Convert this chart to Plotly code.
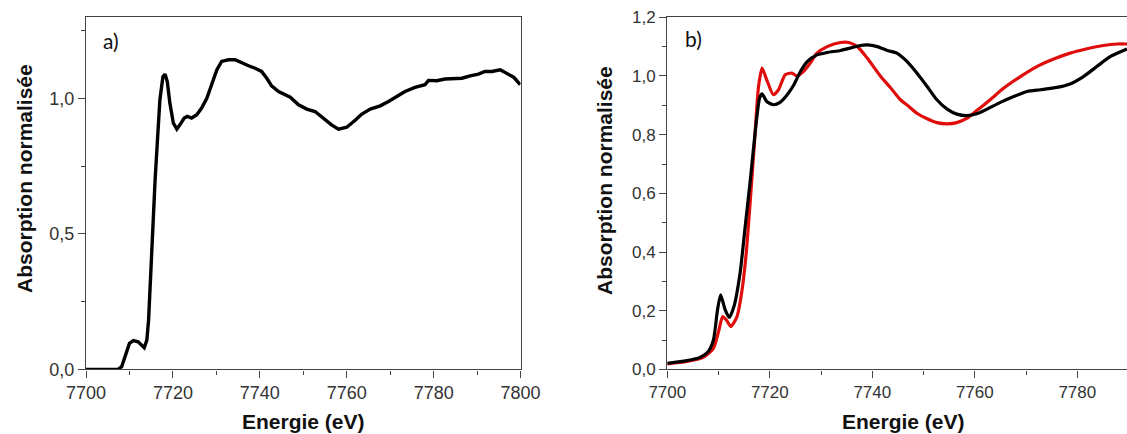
import plotly.graph_objects as go

# ---------------- Panel a data ----------------
energy_a = [7700, 7707.4, 7708.2, 7709.0, 7710.0, 7710.9, 7712.0, 7713.4, 7714.0, 7714.4,
            7714.9, 7715.3, 7715.9, 7716.4, 7717.0, 7717.7, 7718.2, 7718.7, 7719.3, 7720.1,
            7720.9, 7721.6, 7722.6, 7723.3, 7724.3, 7725.5, 7726.6, 7727.8, 7728.9, 7730.1,
            7731.2, 7732.8, 7734.3, 7735.8, 7737.4, 7738.9, 7740.4, 7741.6, 7742.7, 7744.3,
            7745.8, 7747.0, 7748.9, 7750.8, 7752.7, 7754.6, 7756.5, 7758.1, 7760.0, 7762.0,
            7763.4, 7765.4, 7767.7, 7769.6, 7771.5, 7773.4, 7775.7, 7778.0, 7778.8, 7780.7,
            7782.6, 7784.5, 7786.5, 7788.4, 7790.3, 7791.8, 7793.4, 7795.3, 7796.8, 7798.4,
            7799.9]
absorb_a = [0.0, 0.0, 0.01, 0.047, 0.096, 0.106, 0.102, 0.080, 0.108, 0.182,
            0.355, 0.527, 0.700, 0.835, 0.995, 1.081, 1.090, 1.063, 0.983, 0.909,
            0.887, 0.903, 0.928, 0.934, 0.928, 0.940, 0.965, 1.001, 1.051, 1.106,
            1.137, 1.143, 1.143, 1.131, 1.121, 1.112, 1.100, 1.075, 1.047, 1.026,
            1.014, 1.005, 0.977, 0.961, 0.952, 0.928, 0.903, 0.887, 0.894, 0.921,
            0.942, 0.961, 0.973, 0.989, 1.008, 1.026, 1.041, 1.051, 1.067, 1.066,
            1.072, 1.075, 1.075, 1.084, 1.090, 1.100, 1.100, 1.106, 1.094, 1.079,
            1.051]

# ---------------- Panel b data ----------------
energy_b_black = [7700, 7703.8, 7706.4, 7708.0, 7709.0, 7709.8, 7710.4, 7711.3, 7712.1, 7713.0,
                  7714.2, 7715.2, 7716.2, 7717.2, 7718.0, 7718.5, 7719.4, 7720.7, 7722.0, 7723.4,
                  7724.7, 7726.0, 7727.3, 7729.2, 7731.2, 7733.8, 7735.7, 7737.7, 7739.0, 7741.0,
                  7742.9, 7744.8, 7746.8, 7748.7, 7750.7, 7752.6, 7754.6, 7756.5, 7758.5, 7760.4,
                  7762.4, 7765.0, 7767.6, 7770.2, 7772.8, 7776.0, 7778.6, 7781.2, 7783.8, 7786.4,
                  7789.7]
absorb_b_black = [0.021, 0.030, 0.041, 0.061, 0.100, 0.203, 0.254, 0.203, 0.177, 0.214,
                  0.328, 0.487, 0.646, 0.817, 0.924, 0.939, 0.913, 0.902, 0.910, 0.936,
                  0.970, 1.016, 1.049, 1.072, 1.080, 1.087, 1.095, 1.104, 1.106, 1.100,
                  1.087, 1.078, 1.049, 1.010, 0.964, 0.919, 0.887, 0.870, 0.865, 0.871,
                  0.887, 0.910, 0.930, 0.947, 0.953, 0.961, 0.973, 0.998, 1.032, 1.066,
                  1.092]

energy_b_red = [7700, 7703.8, 7707.0, 7709.0, 7710.0, 7710.8, 7711.5, 7712.4, 7713.6, 7714.5,
                7715.4, 7716.2, 7717.0, 7717.8, 7718.5, 7719.4, 7720.7, 7721.7, 7723.0, 7724.3,
                7725.3, 7726.6, 7727.9, 7729.2, 7731.2, 7733.8, 7735.4, 7737.1, 7739.0, 7741.6,
                7743.6, 7745.5, 7746.8, 7748.7, 7750.7, 7752.6, 7754.6, 7756.5, 7758.5, 7760.4,
                7763.0, 7765.6, 7768.9, 7772.1, 7775.4, 7778.6, 7781.9, 7785.1, 7787.8, 7789.7]
absorb_b_red = [0.019, 0.027, 0.041, 0.072, 0.129, 0.180, 0.169, 0.146, 0.180, 0.260,
                0.396, 0.578, 0.771, 0.964, 1.027, 0.987, 0.936, 0.953, 1.004, 1.010,
                1.000, 1.016, 1.044, 1.078, 1.100, 1.114, 1.114, 1.100, 1.061, 0.999,
                0.959, 0.919, 0.901, 0.873, 0.854, 0.841, 0.837, 0.841, 0.856, 0.882,
                0.919, 0.958, 0.998, 1.032, 1.058, 1.078, 1.093, 1.104, 1.109, 1.109]

# ---------------- Tick labels ----------------
x_ticks_a = [7700, 7720, 7740, 7760, 7780, 7800]
x_ticks_b = [7700, 7720, 7740, 7760, 7780]
y_ticks_a = [0.0, 0.5, 1.0]
y_labels_a = ["0,0", "0,5", "1,0"]
y_ticks_b = [0.0, 0.2, 0.4, 0.6, 0.8, 1.0, 1.2]
y_labels_b = ["0,0", "0,2", "0,4", "0,6", "0,8", "1,0", "1,2"]

x_title = "Energie (eV)"
y_title = "Absorption normalisée"

W, H = 1127, 434
FONT = "Liberation Sans, Arial, sans-serif"
AXC = "#444444"
TICKC = "#333333"

fig = go.Figure()
fig.add_trace(go.Scatter(x=energy_a, y=absorb_a, mode="lines",
                         line=dict(color="#000000", width=3.4),
                         xaxis="x", yaxis="y", showlegend=False))
fig.add_trace(go.Scatter(x=energy_b_red, y=absorb_b_red, mode="lines",
                         line=dict(color="#e00d0d", width=3.2, shape="spline", smoothing=0.6),
                         xaxis="x2", yaxis="y2", showlegend=False))
fig.add_trace(go.Scatter(x=energy_b_black, y=absorb_b_black, mode="lines",
                         line=dict(color="#000000", width=3.2, shape="spline", smoothing=0.6),
                         xaxis="x2", yaxis="y2", showlegend=False))

def px_x(v):
    return v / W

def px_y(v):
    return 1 - v / H

common = dict(showgrid=False, zeroline=False, showline=True, linecolor=AXC, linewidth=1.3,
              ticks="outside", tickcolor=AXC, tickwidth=1.2, ticklen=7, automargin=False)

fig.update_layout(
    width=W, height=H,
    margin=dict(l=0, r=0, t=0, b=0, pad=0, autoexpand=False),
    paper_bgcolor="white", plot_bgcolor="white",
    xaxis=dict(domain=[px_x(86), px_x(520.6)], range=[7700, 7800], anchor="y",
               tickvals=x_ticks_a, ticktext=[str(v) for v in x_ticks_a],
               tickfont=dict(family=FONT, size=18, color=TICKC), mirror=True,
               minor=dict(dtick=10, tick0=7700, ticks="outside", ticklen=4, tickcolor=AXC, tickwidth=1.2),
               **common),
    yaxis=dict(domain=[px_y(369.4), px_y(17.3)], range=[0, 1.30], anchor="x",
               tickvals=y_ticks_a, ticktext=y_labels_a,
               tickfont=dict(family=FONT, size=18, color=TICKC), mirror=True,
               minor=dict(dtick=0.25, tick0=0, ticks="outside", ticklen=4, tickcolor=AXC, tickwidth=1.2),
               **common),
    xaxis2=dict(domain=[px_x(667.3), 1.0], range=[7700, 7789.7], anchor="y2",
                tickvals=x_ticks_b, ticktext=[str(v) for v in x_ticks_b],
                tickfont=dict(family=FONT, size=17, color=TICKC), mirror=True,
                minor=dict(dtick=10, tick0=7700, ticks="outside", ticklen=4, tickcolor=AXC, tickwidth=1.2),
                **common),
    yaxis2=dict(domain=[px_y(369.4), px_y(17.3)], range=[0, 1.2], anchor="x2",
                tickvals=y_ticks_b, ticktext=y_labels_b,
                tickfont=dict(family=FONT, size=17, color=TICKC), mirror=False,
                minor=dict(dtick=0.1, tick0=0, ticks="outside", ticklen=4, tickcolor=AXC, tickwidth=1.2),
                **common),
)

ann = []
title_font = dict(family=FONT, size=21, color="#111111")
ann.append(dict(text="<b>%s</b>" % x_title, x=px_x(303), y=px_y(421), xref="paper", yref="paper",
                xanchor="center", yanchor="middle", showarrow=False, font=title_font))
ann.append(dict(text="<b>%s</b>" % x_title, x=px_x(903), y=px_y(421), xref="paper", yref="paper",
                xanchor="center", yanchor="middle", showarrow=False, font=title_font))
ann.append(dict(text="<b>%s</b>" % y_title, x=px_x(24), y=px_y(179), xref="paper", yref="paper",
                xanchor="center", yanchor="middle", textangle=-90, showarrow=False, font=title_font))
ann.append(dict(text="<b>%s</b>" % y_title, x=px_x(604), y=px_y(181), xref="paper", yref="paper",
                xanchor="center", yanchor="middle", textangle=-90, showarrow=False, font=title_font))
panel_font = dict(family="Lato, Open Sans, sans-serif", size=21, color="#111111")
ann.append(dict(text="a)", x=px_x(110.5), y=px_y(40), xref="paper", yref="paper",
                xanchor="center", yanchor="middle", showarrow=False, font=panel_font))
ann.append(dict(text="b)", x=px_x(693), y=px_y(38.5), xref="paper", yref="paper",
                xanchor="center", yanchor="middle", showarrow=False, font=panel_font))
fig.update_layout(annotations=ann)

fig.write_html("out.html",
               config={"displayModeBar": False},
               post_script="document.body.style.margin='0';document.body.style.overflow='hidden';")
